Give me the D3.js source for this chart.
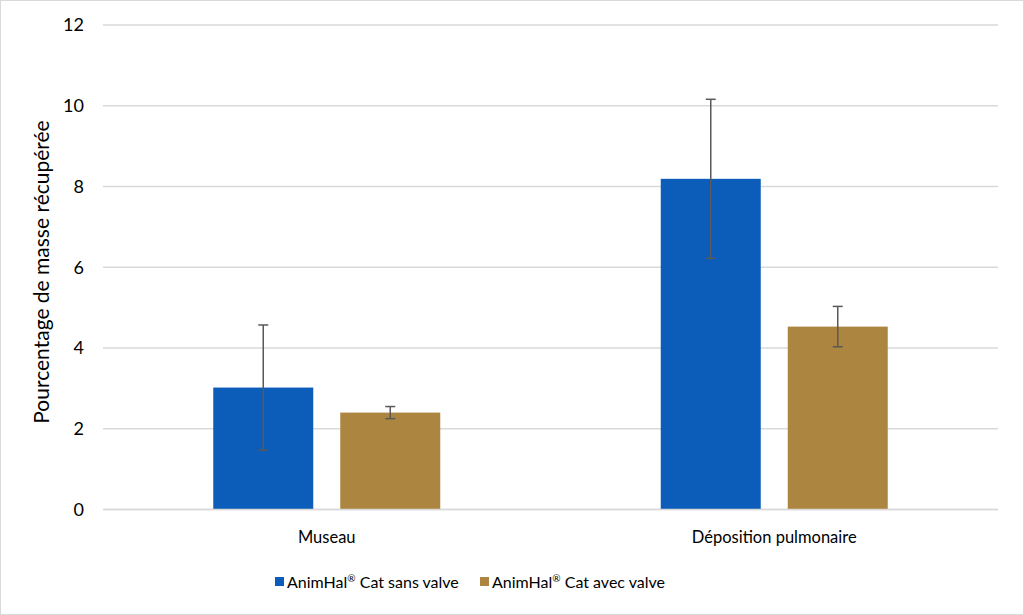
<!DOCTYPE html>
<html><head><meta charset="utf-8">
<script src="https://cdn.jsdelivr.net/npm/d3@7"></script>
<style>body{margin:0;background:#fff}svg{display:block}text{font-family:Lato,"Open Sans",sans-serif;fill:#000}</style>
</head><body>
<svg id="c" width="1024" height="615"></svg>
<script>
const categories = ["Museau", "Déposition pulmonaire"];
const seriesNames = ["AnimHal® Cat sans valve", "AnimHal® Cat avec valve"];
const sansValve = [3.02, 8.19];
const sansValveErr = [1.55, 1.97];
const avecValve = [2.40, 4.53];
const avecValveErr = [0.15, 0.50];
const yTicks = [0, 2, 4, 6, 8, 10, 12];
const colors = ["#0B5DB9", "#AC8641"];

const series = [
  {name: seriesNames[0], vals: sansValve, errs: sansValveErr, color: colors[0]},
  {name: seriesNames[1], vals: avecValve, errs: avecValveErr, color: colors[1]}
];

const svg = d3.select("#c");
svg.append("rect").attr("x",0.5).attr("y",0.5).attr("width",1023).attr("height",614)
  .attr("fill","#fff").attr("stroke","#d9d9d9");

const L = 103, R = 998, T = 25, B = 509.5;
const x = d3.scaleBand().domain(categories).range([L, R]);
const xs = d3.scaleBand().domain(d3.range(series.length)).range([0, 227]).paddingInner(27/127);
const y = d3.scaleLinear().domain([0, 12]).range([B, T]);

// gridlines
svg.append("g").selectAll("line").data(yTicks).join("line")
  .attr("x1", L).attr("x2", R).attr("y1", d => y(d)).attr("y2", d => y(d))
  .attr("stroke", "#d9d9d9").attr("stroke-width", 1.3);

// y tick labels
svg.append("g").selectAll("text").data(yTicks).join("text")
  .attr("x", 84).attr("y", d => y(d)).attr("dy", "0.36em").attr("text-anchor", "end")
  .attr("font-size", 18).text(d => d);

// y title
svg.append("text").attr("transform", `translate(49,272) rotate(-90)`)
  .attr("text-anchor", "middle").attr("font-size", 21).text("Pourcentage de masse récupérée");

// bars
const groups = svg.append("g").selectAll("g").data(series).join("g");
groups.each(function(s, si){
  const g = d3.select(this);
  categories.forEach((c, ci) => {
    const bx = x(c) + x.bandwidth()/2 - 113.5 + xs(si);
    const bw = xs.bandwidth();
    g.append("rect").attr("x", bx).attr("y", y(s.vals[ci])).attr("width", bw)
      .attr("height", y(0) - y(s.vals[ci])).attr("fill", s.color);
    const cx = bx + bw/2;
    const hi = y(s.vals[ci] + s.errs[ci]), lo = y(s.vals[ci] - s.errs[ci]);
    const eg = g.append("g").attr("stroke", "#595959").attr("stroke-width", 1.5);
    eg.append("line").attr("x1", cx).attr("x2", cx).attr("y1", hi).attr("y2", lo);
    eg.append("line").attr("x1", cx-5).attr("x2", cx+5).attr("y1", hi).attr("y2", hi);
    eg.append("line").attr("x1", cx-5).attr("x2", cx+5).attr("y1", lo).attr("y2", lo);
  });
});

// baseline
svg.append("line").attr("x1", L).attr("x2", R).attr("y1", y(0)).attr("y2", y(0))
  .attr("stroke", "#d9d9d9").attr("stroke-width", 1.3);

// category labels
svg.append("g").selectAll("text").data(categories).join("text")
  .attr("x", d => x(d) + x.bandwidth()/2).attr("y", 537).attr("dy", "0.36em")
  .attr("text-anchor", "middle").attr("font-size", 16.5).text(d => d);

// legend
const legX = [275, 480];
const lg = svg.append("g").selectAll("g").data(series).join("g")
  .attr("transform", (d, i) => `translate(${legX[i]},582)`);
lg.append("rect").attr("x", 0).attr("y", -5).attr("width", 9).attr("height", 9).attr("fill", d => d.color);
const lt = lg.append("text").attr("x", 12).attr("y", 0).attr("dy", "0.36em").attr("font-size", 16);
lt.each(function(d){
  const parts = d.name.split("®");
  const t = d3.select(this);
  t.append("tspan").text(parts[0]);
  t.append("tspan").attr("font-size", 10).attr("dy", "-0.55em").text("®");
  t.append("tspan").attr("dy", "0.35em").text(parts[1]);
});
</script>
</body></html>
